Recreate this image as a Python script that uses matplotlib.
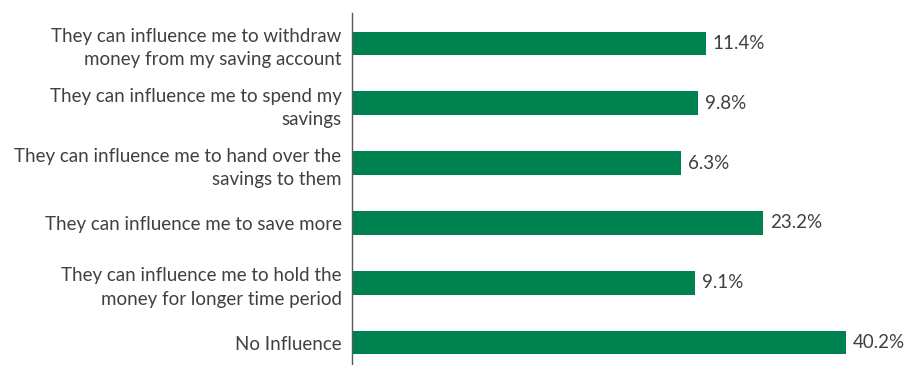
import matplotlib
matplotlib.use("Agg")
import matplotlib.pyplot as plt

categories = [
    "They can influence me to withdraw\nmoney from my saving account",
    "They can influence me to spend my\nsavings",
    "They can influence me to hand over the\nsavings to them",
    "They can influence me to save more",
    "They can influence me to hold the\nmoney for longer time period",
    "No Influence",
]
values = [11.4, 9.8, 6.3, 23.2, 9.1, 40.2]
value_labels = ["11.4%", "9.8%", "6.3%", "23.2%", "9.1%", "40.2%"]

BAR_COLOR = "#008150"
TEXT_COLOR = "#404040"
FONT = ["Lato", "DejaVu Sans"]
FS = 13.5

# value axis starts below zero; bars run from that axis origin
x_min, x_max = -61.3, 52.5

W, H = 906, 365
fig = plt.figure(figsize=(W / 100, H / 100), dpi=100)
ax = fig.add_axes([352 / W, 0, 1 - 352 / W, 1 - 13 / H])

ypos = list(range(len(categories)))
widths = [v - x_min for v in values]
ax.barh(ypos, widths, left=x_min, height=0.4, color=BAR_COLOR)

for y, v, lab in zip(ypos, values, value_labels):
    ax.text(v + 1.4, y, lab, va="center", ha="left", fontsize=FS,
            color=TEXT_COLOR, family=FONT)

ax.set_xlim(x_min, x_max)
ax.set_ylim(5.376, -0.51)
ax.set_yticks(ypos)
ax.set_yticklabels(categories, fontsize=FS, color=TEXT_COLOR, family=FONT,
                   linespacing=1.45)
ax.tick_params(axis="y", length=0, pad=7.5)
ax.set_xticks([])
for s in ["top", "right", "bottom"]:
    ax.spines[s].set_visible(False)
ax.spines["left"].set_color("#595959")
ax.spines["left"].set_linewidth(1.0)

fig.savefig("out.png", dpi=100)
